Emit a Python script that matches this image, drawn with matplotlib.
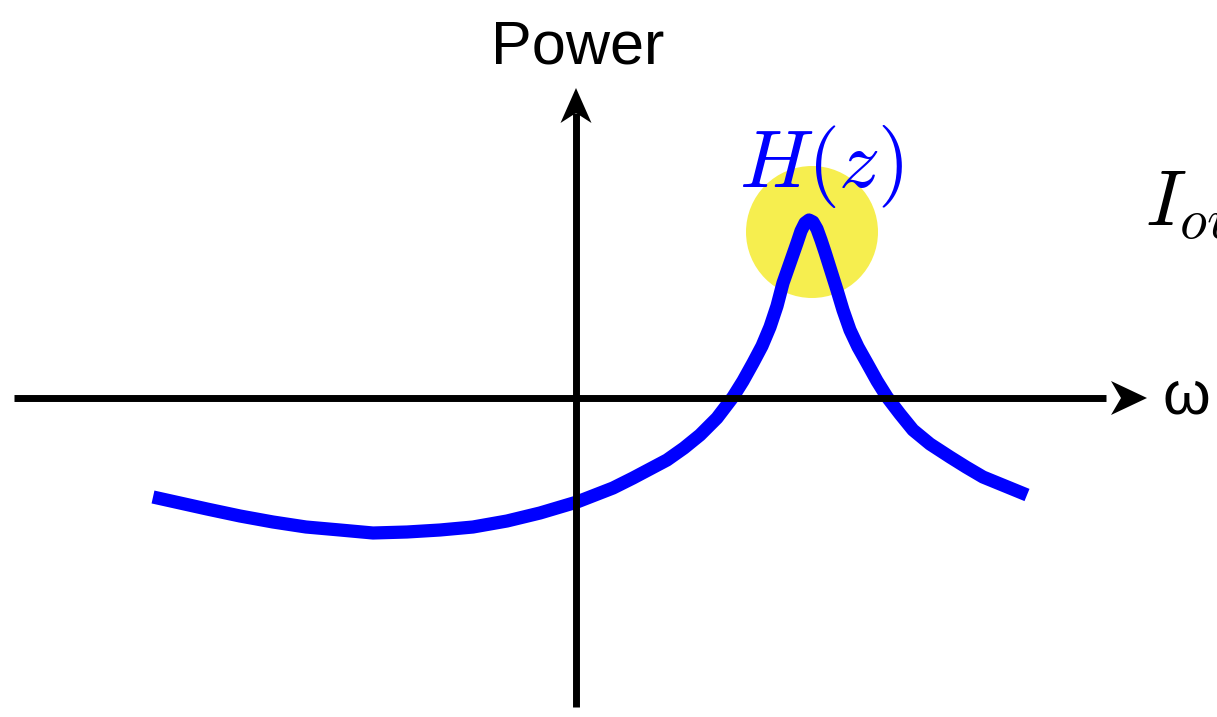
import matplotlib
matplotlib.use("Agg")
import matplotlib.pyplot as plt
from matplotlib.patches import Polygon, Circle

# ---- data (units: 1 = 100 px, origin at axes crossing) ----
omega = [-4.23, -3.96, -3.69, -3.36, -3.03, -2.70, -2.36, -2.03, -1.69, -1.36,
         -1.03, -0.69, -0.36, 0.01, 0.37, 0.57, 0.74, 0.91, 1.08, 1.24,
         1.41, 1.57, 1.67, 1.77, 1.86, 1.94, 2.01, 2.07, 2.14, 2.21,
         2.25, 2.29, 2.33, 2.37, 2.41, 2.45, 2.49, 2.55, 2.61, 2.67,
         2.74, 2.82, 2.91, 3.01, 3.11, 3.24, 3.37, 3.54, 3.74, 3.90,
         4.07, 4.29, 4.51]
power = [-0.99, -1.05, -1.11, -1.18, -1.24, -1.29, -1.32, -1.35, -1.34, -1.32,
         -1.29, -1.23, -1.15, -1.04, -0.90, -0.80, -0.71, -0.62, -0.50, -0.37,
         -0.20, 0.01, 0.17, 0.35, 0.52, 0.71, 0.92, 1.15, 1.35, 1.55,
         1.67, 1.75, 1.78, 1.76, 1.69, 1.58, 1.46, 1.27, 1.08, 0.88,
         0.68, 0.51, 0.35, 0.17, 0.01, -0.16, -0.32, -0.46, -0.59, -0.69,
         -0.79, -0.88, -0.97]
peak_omega = 2.36
peak_power = 1.66
x_label = "ω"
y_label = "Power"
peak_label = r"$H(z)$"
out_label = r"$I_{out}$"

plt.rcParams["mathtext.fontset"] = "cm"

fig = plt.figure(figsize=(12.17, 7.17), dpi=100)
ax = fig.add_axes([0, 0, 1, 1])
ax.set_xlim(-5.76, 6.41)
ax.set_ylim(-3.19, 3.98)
ax.axis("off")

# highlight circle
ax.add_patch(Circle((peak_omega, peak_power), 0.66, facecolor="#F6EE4F",
                    edgecolor="none", zorder=1))

# curve
ax.plot(omega, power, color="#0000FF", lw=9.5, solid_capstyle="butt",
        solid_joinstyle="round", zorder=2)

# axes lines with arrow heads
ax.plot([-5.62, 5.30], [0, 0], color="black", lw=5, solid_capstyle="butt", zorder=3)
ax.add_patch(Polygon([(5.71, 0), (5.35, 0.17), (5.45, 0), (5.35, -0.17)],
                     closed=True, facecolor="black", edgecolor="none", zorder=3))
ax.plot([0, 0], [-3.09, 2.85], color="black", lw=5, solid_capstyle="butt", zorder=3)
ax.add_patch(Polygon([(0, 3.10), (0.155, 2.75), (0, 2.85), (-0.155, 2.75)],
                     closed=True, facecolor="black", edgecolor="none", zorder=3))

# labels
ax.text(0.02, 3.35, y_label, ha="center", va="baseline", fontsize=44,
        family="Liberation Sans", zorder=4)
ax.text(6.10, -0.15, x_label, ha="center", va="baseline", fontsize=44,
        family="Liberation Sans", zorder=4)
ax.text(1.63, 2.11, peak_label, ha="left", va="baseline", fontsize=59,
        color="#0000FF", zorder=4)
ax.text(5.69, 1.72, out_label, ha="left", va="baseline", fontsize=57,
        color="black", zorder=4)

fig.savefig("out.png", dpi=100)
